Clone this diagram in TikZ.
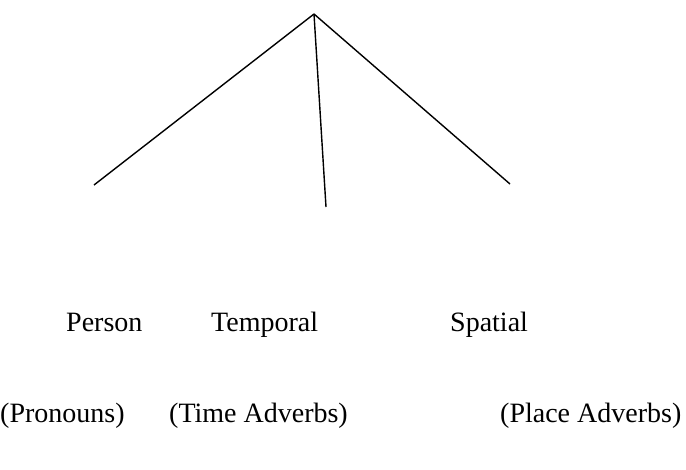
\documentclass[tikz,border=0pt]{standalone}
\usepackage{fontspec}
\setmainfont{Liberation Serif}
\begin{document}
\begin{tikzpicture}[x=1pt,y=-1pt,
  lbl/.style={inner sep=0pt,font=\fontsize{28}{33}\selectfont,anchor=base west},
  edge/.style={line width=1.4pt,black}]
\useasboundingbox (0,0) rectangle (686,469);
\coordinate (top) at (314,14);
\coordinate (l) at (94,185);
\coordinate (m) at (326,207);
\coordinate (r) at (510,184);
\draw[edge] (top) -- (l);
\draw[edge] (top) -- (m);
\draw[edge] (top) -- (r);
\node[lbl] (person) at (66,331) {Person};
\node[lbl] (temporal) at (211,331) {Temporal};
\node[lbl] (spatial) at (450,331) {Spatial};
\node[lbl] (pron) at (0,422) {(Pronouns)};
\node[lbl] (time) at (169,422) {(Time Adverbs)};
\node[lbl] (place) at (500,422) {(Place Adverbs)};
\end{tikzpicture}
\end{document}
